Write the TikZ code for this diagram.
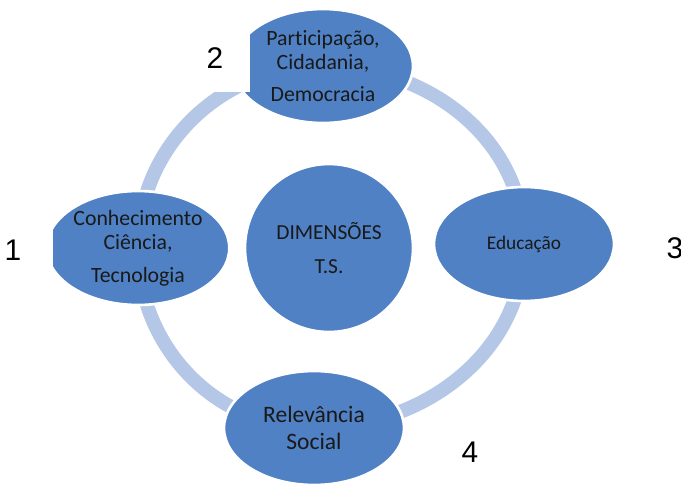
\documentclass[tikz,border=0pt]{standalone}
\usepackage{fontspec}
\setmainfont{Carlito}[Ligatures={NoCommon}]
\newfontfamily\numfont{Liberation Sans}
\usepackage{xcolor}
\usepackage{tikz}
\usetikzlibrary{shapes.geometric, positioning}
\pgfdeclarelayer{background}
\pgfsetlayers{background,main}
\definecolor{nodeblue}{RGB}{79,129,196}
\definecolor{ringblue}{RGB}{180,199,231}
\tikzset{
  dimnode/.style={ellipse, fill=nodeblue, draw=white, line width=1.5pt, minimum width=3.6cm, minimum height=2.28cm, inner sep=0pt, align=center, text=black!90, font=\fontsize{12.4}{14}\selectfont},
  ringline/.style={line width=0.28cm, color=ringblue},
  numlabel/.style={font=\numfont\fontsize{17}{20}\selectfont, text=black}
}

\begin{document}
\begin{tikzpicture}[x=0.02cm, y=-0.02cm]
  \useasboundingbox (0,0) rectangle (681,484);

  \node [dimnode] (part) at (323,66) {Participação,\\Cidadania,\\[4pt]Democracia};
  \node [dimnode] (conh) at (138,248) {Conhecimento\\Ciência,\\[4.5pt]Tecnologia};
  \node [dimnode, font=\fontsize{11}{13}\selectfont] (educ) at (524,244) {Educação};
  \node [dimnode, font=\fontsize{13.4}{15.3}\selectfont] (rele) at (314,428) {Relevância\\Social};
  \node [dimnode, minimum width=3.36cm, minimum height=3.36cm, font=\fontsize{12.2}{14.6}\selectfont] (dim) at (329,248) {DIMENSÕES\\[5pt]T.S.};

  \begin{pgfonlayer}{background}
    \draw [ringline] (part.center) to[out=180, in=90] (conh.center);
    \draw [ringline] (conh.center) to[out=-90, in=180] (rele.center);
    \draw [ringline] (rele.center) to[out=0, in=-90] (educ.center);
    \draw [ringline] (educ.center) to[out=90, in=0] (part.center);
  \end{pgfonlayer}

  \fill [white] (200,30) rectangle (250,92);
  \fill [white] (0,222) rectangle (53,277);

  \node [numlabel] (n1) at (13,250) {1};
  \node [numlabel] (n2) at (215,58) {2};
  \node [numlabel] (n3) at (675,248) {3};
  \node [numlabel] (n4) at (470,452) {4};
\end{tikzpicture}
\end{document}
